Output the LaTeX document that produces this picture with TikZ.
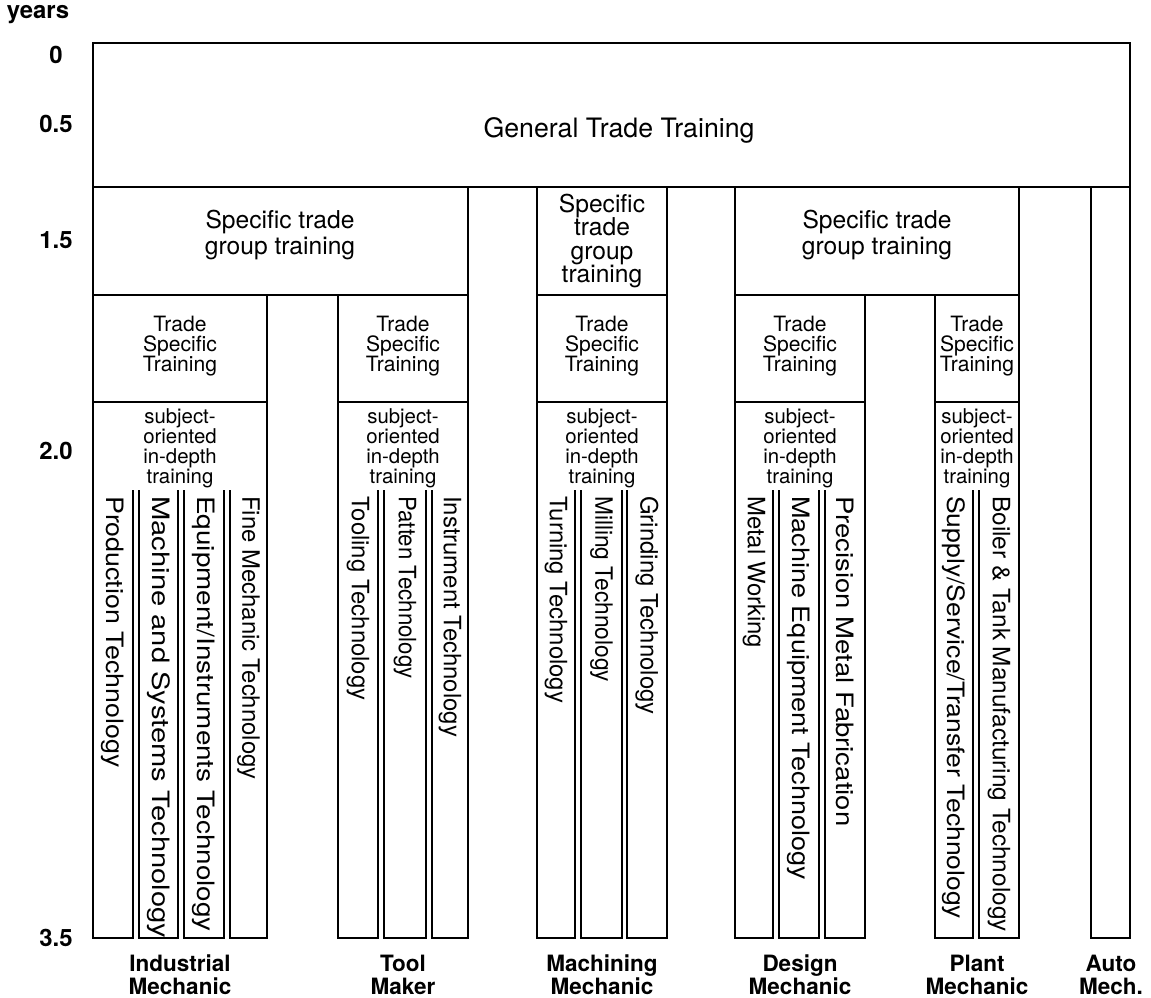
\documentclass[tikz,border=0pt]{standalone}
\usepackage{fontspec}
\setmainfont{TeX Gyre Heros}

\begin{document}
\begin{tikzpicture}[x=0.025cm,y=-0.025cm,
 box/.style={draw,line width=1.3pt,line join=miter},
 grouptext/.style={font=\fontsize{17.5}{18.5}\selectfont,align=center,inner sep=0pt},
 tsttext/.style={font=\fontsize{15}{14.5}\selectfont,align=center,inner sep=0pt},
 subjtext/.style={font=\fontsize{14.5}{14.2}\selectfont,align=center,inner sep=0pt},
 striptext/.style={font=\fontsize{17}{18}\selectfont,rotate=-90,anchor=west,inner sep=0pt},
 trade/.style={font=\bfseries\fontsize{16}{16.5}\selectfont,align=center,inner sep=0pt},
 axis/.style={font=\bfseries\fontsize{17}{18}\selectfont,inner sep=0pt}]
\path[use as bounding box] (0,0) rectangle (1151,998);
% time axis
\node[axis] (years) at (38,15) {years};
\foreach \y/\t [count=\i] in {55/0,124/0.5,240/1.5,451/2.0,938/3.5}
 \node[axis] (tick\i) at (56,\y) {\t};
% first year, common to all trades
\draw[box] (93,43) rectangle (1130,187);
\node[grouptext,font=\fontsize{19}{20}\selectfont] (general) at (619,130) {General Trade Training};
% trade groups
\draw[box] (93,187) rectangle (468,295);
\node[grouptext] (group1) at (280,235) {Specific trade\\group training};
\draw[box] (537,187) rectangle (667,295);
\node[grouptext,font=\fontsize{17.5}{16.8}\selectfont] (group2) at (602,241) {Specific\\trade\\group\\training};
\draw[box] (735,187) rectangle (1019,295);
\node[grouptext] (group3) at (877,235) {Specific trade\\group training};
\draw[box] (1091,187) rectangle (1130,938);
% trade specific blocks
\foreach \l/\r [count=\i] in {93/267,338/468,537/667,735/865,935/1019}{
 \draw[box] (\l,295) rectangle (\r,402);
 \node[tsttext] (tst\i) at ({(\l+\r)/2},346) {Trade\\Specific\\Training};
 \node[subjtext] (subj\i) at ({(\l+\r)/2},448) {subject-\\oriented\\in-depth\\training};
 \draw[box] (\l,402) -- (\l,490) (\r,402) -- (\r,490);
}
% in-depth strips (text stretched as printed)
\foreach \l/\r/\s/\t [count=\i] in {93/133/1.12/Production Technology,139/178/1.22/Machine and Systems Technology,
 184/224/1.165/{Equipment/Instruments Technology},230/267/1.0/Fine Mechanic Technology,
 338/378/1.0/Tooling Technology,384/426/0.93/Patten Technology,432/468/1.0/Instrument Technology,
 537/575/1.0/Turning Technology,581/622/0.95/Milling Technology,627/667/1.0/Grinding Technology,
 735/773/1.0/Metal Working,779/819/1.13/Machine Equipment Technology,825/865/1.15/Precision Metal Fabrication,
 935/973/1.11/{Supply/Service/Transfer Technology},979/1019/1.02/Boiler \& Tank Manufacturing Technology}{
 \draw[box] (\l,490) -- (\l,938) -- (\r,938) -- (\r,490);
 \node[striptext] (strip\i) at ({(\l+\r)/2},496) {\scalebox{\s}[1]{\t}};
}
% trades
\foreach \x/\t [count=\i] in {180/Industrial\\Mechanic,403/Tool\\Maker,602/Machining\\Mechanic,
 800/Design\\Mechanic,977/Plant\\Mechanic,1111/Auto\\Mech.}
 \node[trade] (trade\i) at (\x,975) {\t};
\end{tikzpicture}
\end{document}
